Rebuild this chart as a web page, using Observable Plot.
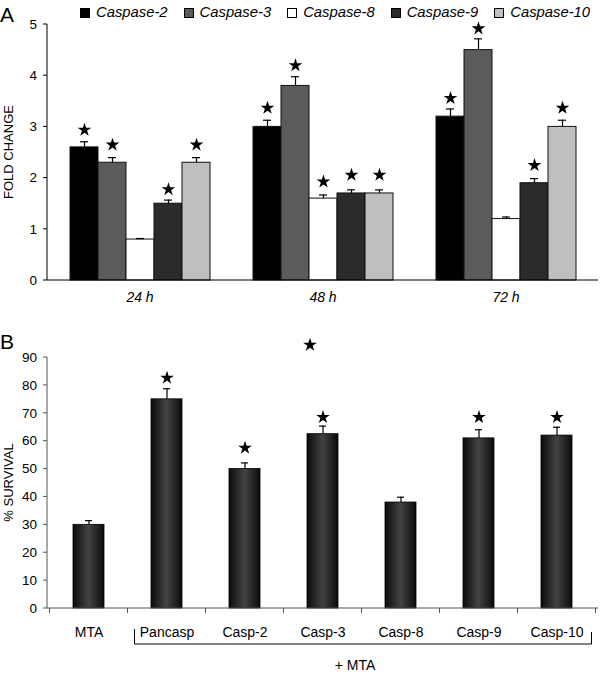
<!DOCTYPE html>
<html><head><meta charset="utf-8">
<script src="https://cdn.jsdelivr.net/npm/d3@7"></script>
<script src="https://cdn.jsdelivr.net/npm/@observablehq/plot@0.6"></script>
<style>
body{margin:0;background:#fff;font-family:"Liberation Sans",Arial,sans-serif;color:#000;}
#wrap{position:relative;width:600px;height:673px;overflow:hidden;}
.plabel{position:absolute;left:0;font-size:21px;line-height:1;}
#legend{position:absolute;top:5px;left:80px;display:flex;gap:16px;font-style:italic;font-size:14.8px;line-height:15px;z-index:2;}
#legend .item{display:flex;align-items:center;white-space:nowrap;}
#legend .sw{display:inline-block;width:8px;height:8px;border:1px solid #000;margin-right:6px;}
#chartA{position:absolute;top:0;left:0;}
#chartB{position:absolute;top:330px;left:0;}
</style></head><body>
<div id="wrap">
  <div id="chartA"></div>
  <div id="chartB"></div>
  <div class="plabel" style="top:4px">A</div>
  <div class="plabel" style="top:331px">B</div>
  <div id="legend"></div>
</div>
<script>
// ---------- Panel A data ----------
const times = ["24 h", "48 h", "72 h"];
const caspases = ["Caspase-2", "Caspase-3", "Caspase-8", "Caspase-9", "Caspase-10"];
const caspColors = ["#000000", "#5b5b5b", "#ffffff", "#2b2b2b", "#bfbfbf"];
const fold24 = [2.6, 2.3, 0.8, 1.5, 2.3];
const fold48 = [3.0, 3.8, 1.6, 1.7, 1.7];
const fold72 = [3.2, 4.5, 1.2, 1.9, 3.0];
const err24 = [0.11, 0.1, 0.02, 0.07, 0.1];
const err48 = [0.13, 0.18, 0.07, 0.07, 0.07];
const err72 = [0.15, 0.22, 0.04, 0.09, 0.13];
const star24 = [2.94, 2.65, null, 1.78, 2.65];
const star48 = [3.37, 4.2, 1.93, 2.06, 2.06];
const star72 = [3.56, 4.92, null, 2.25, 3.37];
const yTicksA = [0, 1, 2, 3, 4, 5];
const yLabelA = "FOLD CHANGE";

// ---------- Panel B data ----------
const groupsB = ["MTA", "Pancasp", "Casp-2", "Casp-3", "Casp-8", "Casp-9", "Casp-10"];
const survival = [30, 75, 50, 62.5, 38, 61, 62];
const survivalErr = [1.5, 3.8, 2.2, 2.9, 1.9, 3.1, 3.0];
const survivalStar = [null, 82.7, 57.6, 68.6, null, 68.6, 68.6];
const strayStar = [{group: "Casp-3", value: 94.5}];
const yTicksB = [0, 10, 20, 30, 40, 50, 60, 70, 80, 90];
const yLabelB = "% SURVIVAL";
const bracketGroups = ["Pancasp", "Casp-10"];
const bracketLabel = "+ MTA";

const font = "Liberation Sans, Arial, sans-serif";

// ---------- Legend ----------
const legend = document.getElementById("legend");
caspases.forEach((c, i) => {
  const it = document.createElement("span"); it.className = "item";
  const sw = document.createElement("span"); sw.className = "sw"; sw.style.background = caspColors[i];
  it.appendChild(sw); it.appendChild(document.createTextNode(c));
  legend.appendChild(it);
});

// y axis drawn from the plot's own y scale
function drawYAxis(svg, yScale, ticks, label, left, color) {
  const ya = ticks.map(t => yScale.apply(t));
  const yMin = d3.min(ya), yMax = d3.max(ya);
  const g = svg.append("g").attr("aria-label", "y-axis");
  g.append("line").attr("x1", left).attr("x2", left).attr("y1", yMin).attr("y2", yMax).attr("stroke", color);
  ticks.forEach((t, i) => {
    g.append("line").attr("x1", left - 4).attr("x2", left).attr("y1", ya[i]).attr("y2", ya[i]).attr("stroke", color);
    g.append("text").attr("x", left - 10).attr("y", ya[i]).attr("dy", "0.35em").attr("text-anchor", "end")
      .style("font-size", "13.5px").style("font-family", font).attr("fill", "#000").text(t);
  });
  g.append("text")
    .attr("transform", `translate(13,${(yMin + yMax) / 2}) rotate(-90)`)
    .attr("text-anchor", "middle").style("font-size", "13px").style("font-family", font)
    .attr("fill", "#000").text(label);
}

// ---------- Panel A ----------
const foldAll = [fold24, fold48, fold72], errAll = [err24, err48, err72], starAll = [star24, star48, star72];
const rowsA = [];
times.forEach((t, i) => caspases.forEach((c, k) => rowsA.push({
  time: t, casp: c, value: foldAll[i][k], top: foldAll[i][k] + errAll[i][k], star: starAll[i][k]
})));

const plotA = Plot.plot({
  width: 600, height: 320,
  marginLeft: 47, marginRight: 2, marginTop: 24, marginBottom: 40,
  style: {fontFamily: font, fontSize: "13px", color: "#000", background: "transparent"},
  fx: {domain: times, paddingInner: 0.23, paddingOuter: 0.12, label: null, tickSize: 0, tickPadding: 12},
  x: {domain: caspases, axis: null, padding: 0},
  y: {domain: [0, 5], axis: null},
  color: {domain: caspases, range: caspColors},
  marks: [
    Plot.barY(rowsA, {fx: "time", x: "casp", y: "value", fill: "casp", stroke: "#111", strokeWidth: 1}),
    Plot.ruleX(rowsA, {fx: "time", x: "casp", y1: "value", y2: "top", stroke: "#000", strokeWidth: 1.2}),
    Plot.tickY(rowsA, {fx: "time", x: "casp", y: "top", insetLeft: 10, insetRight: 10, stroke: "#000", strokeWidth: 1.2}),
    Plot.dot(rowsA.filter(d => d.star != null), {fx: "time", x: "casp", y: "star", symbol: "star", r: 4.3, fill: "#000", stroke: null})
  ]
});
document.getElementById("chartA").appendChild(plotA);
{
  const y = plotA.scale("y");
  const svg = d3.select(plotA);
  svg.selectAll('g[aria-label^="fx-axis"] text').style("font-size", "14px").style("font-style", "italic").attr("fill", "#000");
  const y0 = y.apply(0);
  svg.append("line").attr("x1", 47).attr("x2", 598).attr("y1", y0).attr("y2", y0).attr("stroke", "#000");
  drawYAxis(svg, y, yTicksA, yLabelA, 47, "#000");
}

// ---------- Panel B ----------
const rowsB = groupsB.map((g, i) => ({group: g, value: survival[i], top: survival[i] + survivalErr[i], star: survivalStar[i]}));
const plotB = Plot.plot({
  width: 600, height: 343,
  marginLeft: 47, marginRight: 2, marginTop: 27, marginBottom: 65,
  style: {fontFamily: font, fontSize: "13px", color: "#000", background: "transparent"},
  x: {domain: groupsB, paddingInner: 0.6, paddingOuter: 0.3, tickSize: 0, tickPadding: 19, label: null},
  y: {domain: [0, 90], axis: null},
  marks: [
    Plot.barY(rowsB, {x: "group", y: "value", fill: "url(#cyl)", stroke: "#000", strokeWidth: 0.8}),
    Plot.ruleX(rowsB, {x: "group", y1: "value", y2: "top", stroke: "#000", strokeWidth: 1.2}),
    Plot.tickY(rowsB, {x: "group", y: "top", insetLeft: 12, insetRight: 12, stroke: "#000", strokeWidth: 1.2}),
    Plot.dot(rowsB.filter(d => d.star != null), {x: "group", y: "star", symbol: "star", r: 4.3, fill: "#000", stroke: null}),
    Plot.dot(strayStar, {x: "group", y: "value", dx: -13, symbol: "star", r: 4.3, fill: "#000", stroke: null})
  ]
});
document.getElementById("chartB").appendChild(plotB);
{
  const svg = d3.select(plotB);
  svg.selectAll('g[aria-label^="x-axis"] text').style("font-size", "14px").attr("fill", "#000");
  const x = plotB.scale("x"), y = plotB.scale("y");
  const defs = svg.insert("defs", ":first-child");
  const grad = defs.append("linearGradient").attr("id", "cyl").attr("x1", 0).attr("x2", 1).attr("y1", 0).attr("y2", 0);
  [[0, "#0b0b0b"], [0.5, "#434343"], [1, "#0b0b0b"]].forEach(([o, c]) => grad.append("stop").attr("offset", o).attr("stop-color", c));
  const y0 = y.apply(0);
  svg.append("line").attr("x1", 47).attr("x2", 598).attr("y1", y0).attr("y2", y0).attr("stroke", "#555");
  drawYAxis(svg, y, yTicksB, yLabelB, 47, "#555");
  const center = g => x.apply(g) + x.bandwidth / 2;
  const bounds = [center(groupsB[0]) - x.step / 2, ...groupsB.map(g => center(g) + x.step / 2)];
  bounds.forEach(b => svg.append("line").attr("x1", b).attr("x2", b).attr("y1", y0).attr("y2", y0 + 5).attr("stroke", "#555"));
  const bl = center(bracketGroups[0]) - x.step / 2 + 7;
  const br = center(bracketGroups[1]) + x.step / 2 - 4;
  const by = y0 + 36;
  svg.append("path").attr("d", `M${bl},${y0 + 21}V${by}H${br}V${y0 + 24}`).attr("fill", "none").attr("stroke", "#000");
  svg.append("text").attr("x", (bl + br) / 2 - 8).attr("y", by + 26).attr("text-anchor", "middle")
    .style("font-size", "14px").style("font-family", font).text(bracketLabel);
}
</script>
</body></html>
